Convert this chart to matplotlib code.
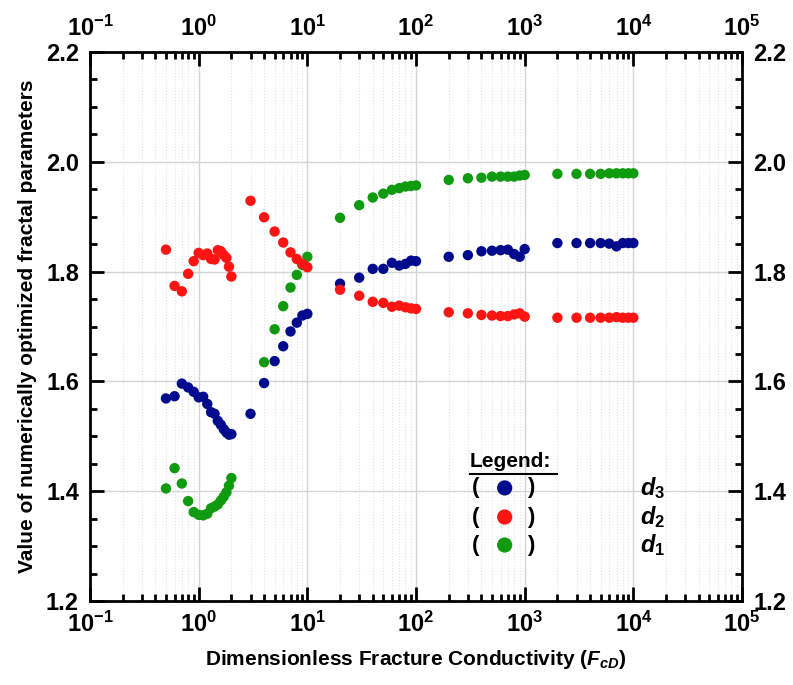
import numpy as np
import matplotlib
matplotlib.use("Agg")
import matplotlib.pyplot as plt
from matplotlib.ticker import FixedLocator, FuncFormatter, MultipleLocator, LogLocator, NullFormatter

# FcD values (same for the three fitted parameters)
fcd = [0.5, 0.6, 0.7, 0.8, 0.9, 1.0, 1.1, 1.2, 1.3, 1.4, 1.5, 1.6, 1.7, 1.8, 1.9, 2.0,
       3, 4, 5, 6, 7, 8, 9, 10,
       20, 30, 40, 50, 60, 70, 80, 90, 100,
       200, 300, 400, 500, 600, 700, 800, 900, 1000,
       2000, 3000, 4000, 5000, 6000, 7000, 8000, 9000, 10000]

d3 = [1.569, 1.573, 1.596, 1.589, 1.581, 1.571, 1.572, 1.559, 1.544, 1.541, 1.528, 1.521, 1.513, 1.507, 1.503, 1.504,
      1.541, 1.597, 1.637, 1.664, 1.691, 1.707, 1.720, 1.723,
      1.778, 1.789, 1.805, 1.805, 1.816, 1.811, 1.814, 1.820, 1.819,
      1.827, 1.830, 1.837, 1.838, 1.839, 1.840, 1.832, 1.827, 1.841,
      1.852, 1.852, 1.852, 1.852, 1.851, 1.846, 1.852, 1.852, 1.852]

d2 = [1.840, 1.774, 1.764, 1.796, 1.819, 1.834, 1.830, 1.833, 1.823, 1.822, 1.839, 1.837, 1.830, 1.825, 1.809, 1.791,
      1.929, 1.899, 1.873, 1.853, 1.835, 1.823, 1.814, 1.808,
      1.767, 1.756, 1.745, 1.743, 1.736, 1.738, 1.735, 1.733, 1.732,
      1.726, 1.724, 1.721, 1.720, 1.719, 1.719, 1.722, 1.724, 1.718,
      1.716, 1.716, 1.716, 1.716, 1.716, 1.717, 1.716, 1.716, 1.716]

d1 = [1.405, 1.442, 1.414, 1.382, 1.362, 1.357, 1.356, 1.359, 1.369, 1.372, 1.376, 1.383, 1.390, 1.398, 1.410, 1.424,
      np.nan, 1.635, 1.695, 1.737, 1.771, 1.794, 1.812, 1.827,
      1.898, 1.921, 1.935, 1.942, 1.949, 1.952, 1.955, 1.956, 1.957,
      1.967, 1.970, 1.971, 1.973, 1.973, 1.973, 1.973, 1.975, 1.976,
      1.978, 1.978, 1.978, 1.978, 1.979, 1.979, 1.979, 1.979, 1.979]

c_blue = "#000a8c"
c_red = "#ff1414"
c_green = "#109a10"

plt.rcParams["font.family"] = ["Liberation Sans", "DejaVu Sans"]
plt.rcParams["font.weight"] = "bold"
plt.rcParams["mathtext.fontset"] = "custom"
plt.rcParams["mathtext.rm"] = "Liberation Sans:bold"
plt.rcParams["mathtext.bf"] = "Liberation Sans:bold"
plt.rcParams["mathtext.it"] = "Liberation Sans:bold:italic"

fig = plt.figure(figsize=(7.93, 6.85), dpi=100)
ax = fig.add_axes([0.1135, 0.1226, 0.8222, 0.8015])

ax.scatter(fcd, d3, s=56, color=c_blue, edgecolors="none", zorder=3)
ax.scatter(fcd, d1, s=56, color=c_green, edgecolors="none", zorder=3)
ax.scatter(fcd, d2, s=56, color=c_red, edgecolors="none", zorder=3)

ax.set_xscale("log")
ax.set_xlim(0.1, 1e5)
ax.set_ylim(1.2, 2.2)

ax.xaxis.set_major_locator(FixedLocator([1e-1, 1e0, 1e1, 1e2, 1e3, 1e4, 1e5]))
ax.xaxis.set_minor_locator(LogLocator(base=10, subs=np.arange(2, 10), numticks=20))
ax.xaxis.set_minor_formatter(NullFormatter())
ax.xaxis.set_major_formatter(FuncFormatter(lambda v, p: r"$\mathbf{10^{%d}}$" % round(np.log10(v))))
ax.yaxis.set_major_locator(MultipleLocator(0.2))
ax.yaxis.set_minor_locator(MultipleLocator(0.05))
ax.yaxis.set_major_formatter(FuncFormatter(lambda v, p: "%.1f" % v))

ax.grid(True, which="major", color="#d4d4d4", linewidth=1.0, zorder=0)
ax.grid(True, which="minor", axis="x", color="#e2e2e2", linestyle=":", linewidth=0.8, zorder=0)
ax.set_axisbelow(True)

ax.tick_params(which="both", direction="in", top=True, right=True, labeltop=True, labelright=True,
               width=2, labelsize=17, pad=8)
ax.tick_params(which="major", length=10)
ax.tick_params(which="minor", length=5)
for s in ax.spines.values():
    s.set_linewidth(2)

ax.set_xlabel(r"Dimensionless Fracture Conductivity ($F_{cD}$)", fontsize=15, fontweight="bold", labelpad=8)
ax.set_ylabel("Value of numerically optimized fractal parameters", fontsize=15, fontweight="bold", labelpad=6)

# hand-made legend
ax.text(0.583, 0.255, "Legend:", transform=ax.transAxes, fontsize=15, fontweight="bold", va="center", ha="left")
ax.plot([0.583, 0.716], [0.232, 0.232], transform=ax.transAxes, color="black", linewidth=1.5, clip_on=False)
rows = [(0.206, c_blue, r"$d_3$"), (0.153, c_red, r"$d_2$"), (0.102, c_green, r"$d_1$")]
for yy, col, lab in rows:
    ax.text(0.592, yy, "(", transform=ax.transAxes, fontsize=16, fontweight="bold", va="center", ha="center")
    ax.text(0.676, yy, ")", transform=ax.transAxes, fontsize=16, fontweight="bold", va="center", ha="center")
    ax.scatter([0.636], [yy], s=120, color=col, edgecolors="none", transform=ax.transAxes, zorder=4)
    ax.text(0.843, yy, lab, transform=ax.transAxes, fontsize=17, va="center", ha="left")

fig.savefig("out.png", dpi=100)
